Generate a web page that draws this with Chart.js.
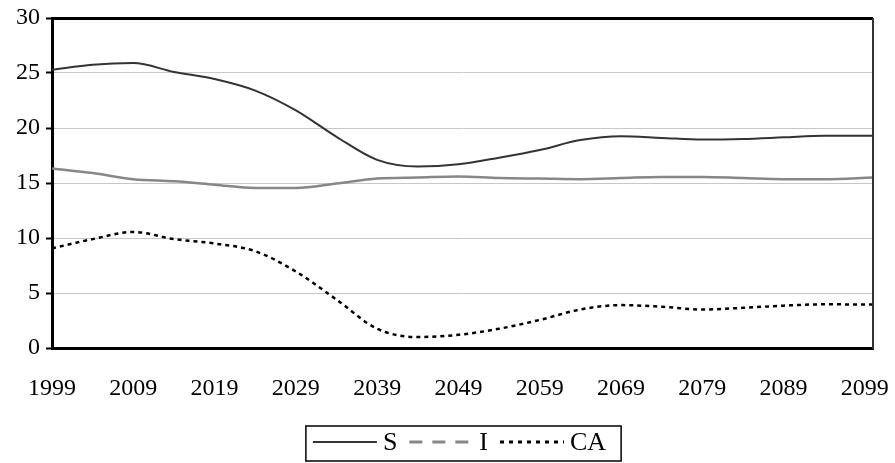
<!DOCTYPE html>
<html>
<head>
<meta charset="utf-8">
<script src="https://cdn.jsdelivr.net/npm/chart.js@4.4.0/dist/chart.umd.min.js"></script>
<style>
  html, body { margin: 0; padding: 0; background: #fff; }
</style>
</head>
<body>
<canvas id="chart" width="895" height="463"></canvas>
<script>
// values
const years    = [1999, 2004, 2009, 2014, 2019, 2024, 2029, 2034, 2039, 2044, 2049, 2054, 2059, 2064, 2069, 2074, 2079, 2084, 2089, 2094, 2100];
const sValues  = [25.3, 25.75, 25.9, 25.1, 24.45, 23.4, 21.6, 19.2, 17.1, 16.5, 16.7, 17.3, 18.0, 18.9, 19.25, 19.1, 18.95, 19.0, 19.15, 19.3, 19.3];
const iValues  = [16.33, 15.9, 15.35, 15.15, 14.85, 14.55, 14.55, 14.95, 15.4, 15.5, 15.6, 15.45, 15.4, 15.35, 15.45, 15.55, 15.55, 15.45, 15.35, 15.35, 15.5];
const caValues = [9.06, 9.9, 10.55, 9.9, 9.5, 8.8, 6.95, 4.4, 1.75, 1.0, 1.2, 1.75, 2.55, 3.5, 3.9, 3.75, 3.5, 3.65, 3.85, 3.97, 3.95];
const tickYears = [1999, 2009, 2019, 2029, 2039, 2049, 2059, 2069, 2079, 2089, 2099];
const seriesNames = ['S', 'I', 'CA'];

const FONT = '"Liberation Serif", "Times New Roman", serif';

function toPoints(vals) {
    return years.map((y, i) => ({ x: y, y: vals[i] }));
}

// legend samples: dash pattern per series
const legendDash = [[], [13, 10], [4, 5]];

const framePlugin = {
    id: 'frame',
    afterDraw(chart) {
        const { ctx, chartArea } = chart;
        ctx.save();
        // right border
        ctx.strokeStyle = '#333';
        ctx.lineWidth = 2;
        ctx.beginPath();
        ctx.moveTo(chartArea.right, chartArea.top);
        ctx.lineTo(chartArea.right, chartArea.bottom + 1);
        ctx.stroke();

        // boxed legend under the axis labels
        ctx.font = '26px ' + FONT;
        const lineLen = 64, gapText = 6, gapItem = 12;
        let total = 0;
        const widths = chart.data.datasets.map(ds => ctx.measureText(ds.label).width);
        widths.forEach(w => { total += lineLen + gapText + w; });
        total += gapItem * (widths.length - 1);
        const cx = (chartArea.left + chartArea.right) / 2;
        let x = cx - total / 2 - 3;
        const y = 442;
        ctx.strokeStyle = '#000';
        ctx.lineWidth = 1.5;
        ctx.setLineDash([]);
        ctx.strokeRect(x - 7, 426, total + 22, 35);
        chart.data.datasets.forEach((ds, i) => {
            ctx.strokeStyle = ds.borderColor;
            ctx.lineWidth = i === 0 ? 2 : 3;
            ctx.setLineDash(legendDash[i]);
            ctx.beginPath();
            ctx.moveTo(x, y);
            ctx.lineTo(x + lineLen, y);
            ctx.stroke();
            x += lineLen + gapText;
            ctx.setLineDash([]);
            ctx.fillStyle = '#000';
            ctx.textBaseline = 'middle';
            ctx.fillText(ds.label, x, y + 1);
            x += widths[i] + gapItem;
        });
        ctx.restore();
    }
};

new Chart(document.getElementById('chart').getContext('2d'), {
    type: 'line',
    data: {
        datasets: [
            { label: seriesNames[0], data: toPoints(sValues), borderColor: '#333333', borderWidth: 2 },
            { label: seriesNames[1], data: toPoints(iValues), borderColor: '#878787', borderWidth: 2.5 },
            { label: seriesNames[2], data: toPoints(caValues), borderColor: '#000000', borderWidth: 2.5, borderDash: [4, 4] }
        ]
    },
    options: {
        responsive: false,
        animation: false,
        layout: { padding: { left: 0, right: 22, top: 18, bottom: 0 } },
        elements: {
            point: { radius: 0 },
            line: { cubicInterpolationMode: 'monotone', fill: false }
        },
        plugins: {
            legend: { display: false },
            tooltip: { enabled: false }
        },
        scales: {
            x: {
                type: 'linear',
                min: 1999,
                max: 2100,
                afterBuildTicks: function(scale) {
                    scale.ticks = tickYears.map(v => ({ value: v }));
                },
                afterFit: function(scale) {
                    scale.height = 115;
                    scale.paddingLeft = 0;
                    scale.paddingRight = 0;
                },
                grid: { display: false, drawTicks: false },
                border: { display: true, color: '#000', width: 3 },
                ticks: {
                    padding: 26,
                    color: '#000',
                    maxRotation: 0,
                    autoSkip: false,
                    font: { family: FONT, size: 24 },
                    callback: v => String(v)
                }
            },
            y: {
                min: 0,
                max: 30,
                afterFit: function(scale) {
                    scale.width = 52;
                    scale.paddingTop = 0;
                    scale.paddingBottom = 0;
                },
                grid: {
                    color: c => (c.tick && c.tick.value === 30) ? '#000' : '#c8c8c8',
                    lineWidth: c => (c.tick && c.tick.value === 30) ? 3 : 1,
                    tickColor: '#000',
                    tickWidth: 2,
                    tickLength: 6
                },
                border: { display: true, color: '#000', width: 3 },
                ticks: {
                    stepSize: 5,
                    padding: 6,
                    color: '#000',
                    font: { family: FONT, size: 24 }
                }
            }
        }
    },
    plugins: [framePlugin]
});
</script>
</body>
</html>
